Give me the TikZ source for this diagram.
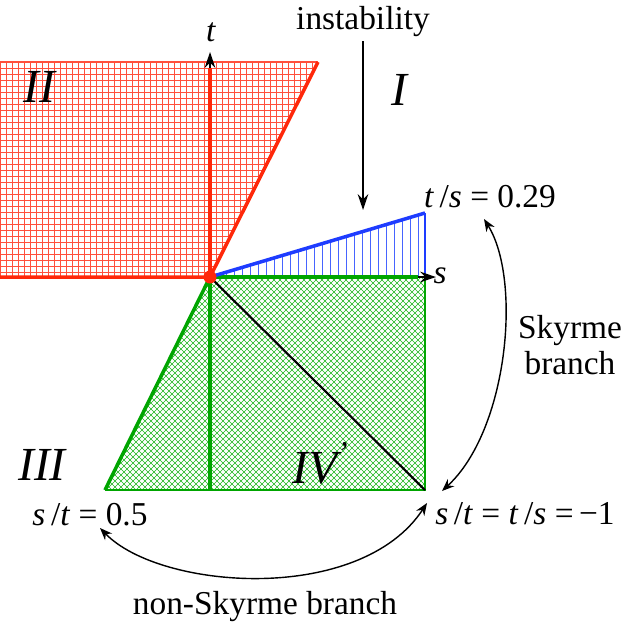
\documentclass[tikz,border=0pt]{standalone}
\usepackage{fontspec}
\setmainfont{Liberation Serif}
\usetikzlibrary{arrows.meta}

\definecolor{regred}{RGB}{255,40,10}
\definecolor{gridred}{RGB}{255,80,60}
\definecolor{regblue}{RGB}{30,60,255}
\definecolor{gridblue}{RGB}{70,100,255}
\definecolor{reggreen}{RGB}{0,165,0}
\definecolor{gridgreen}{RGB}{30,180,30}

\tikzset{
  lab/.style={font=\fontsize{19}{20.5}\selectfont, inner sep=0pt},
  region/.style={font=\fontsize{27}{30}\selectfont\itshape, inner sep=0pt},
  bound/.style={line width=2pt},
  axis/.style={line width=0.8pt, -{Stealth[length=9pt,width=6pt]}},
  branch/.style={line width=0.8pt, {Stealth[length=7pt,width=5.5pt]}-{Stealth[length=7pt,width=5.5pt]}},
}

\begin{document}
\begin{tikzpicture}[x=0.02cm, y=-0.02cm]
\useasboundingbox (0,0) rectangle (624,623);
\coordinate (O) at (210,277);
\coordinate (Rtop) at (318,62);
\coordinate (Btop) at (425,213);
\coordinate (Bfoot) at (425,277);
\coordinate (Gcorner) at (425,490);
\coordinate (Gleft) at (105,490);

% region II
\begin{scope}
\clip (0,277) -- (O) -- (Rtop) -- (0,62) -- cycle;
\foreach \x in {0.5,6.5,...,320} \draw[gridred, line width=0.4pt] (\x,60) -- (\x,280);
\foreach \y in {62.5,68.5,...,280} \draw[gridred, line width=0.4pt] (0,\y) -- (320,\y);
\end{scope}
\draw[gridred, line width=0.6pt] (0,62) -- (Rtop);

% instability wedge
\begin{scope}
\clip (O) -- (Btop) -- (Bfoot) -- cycle;
\foreach \x in {218.5,226.5,...,426} \draw[gridblue, line width=0.5pt] (\x,200) -- (\x,280);
\end{scope}
\draw[regblue, line width=0.6pt] (Btop) -- (Bfoot);

% region IV
\begin{scope}
\clip (O) -- (Bfoot) -- (Gcorner) -- (Gleft) -- cycle;
\foreach \c in {380,386,...,920} \draw[gridgreen, line width=0.35pt] (\c-200,200) -- ++(-300,300);
\foreach \c in {-390,-384,...,150} \draw[gridgreen, line width=0.35pt] (\c+200,200) -- ++(300,300);
\end{scope}
\draw[reggreen, line width=0.6pt] (Bfoot) -- (Gcorner) -- (Gleft);
\draw[reggreen, bound] (Gleft) -- (O) -- (210,490);

% axes
\draw[axis] (O) -- (436,277);
\draw[reggreen, bound] (O) -- (418,277);
\draw[axis] (O) -- (210,52);
\draw[regred, bound] (O) -- (210,68);

\draw[line width=1.2pt] (O) -- (Gcorner);
\draw[regred, bound] (0,277) -- (O) -- (Rtop);
\draw[regblue, bound] (O) -- (Btop);
\fill[regred] (O) circle (3.7pt);

\node[lab] (tlab) at (211,32) {\textit{t}};
\node[lab] (slab) at (440,276) {\textit{s}};

\node[lab] (instab) at (363,22) {instability};
\coordinate (tip) at (363,210);
\draw[axis, shorten <=2pt] (instab.south) -- (tip);

\node[region] (regII) at (39,87) {II};
\node[region] (regI) at (399,90) {I};
\node[region] (regIII) at (42,465) {III};
\node[region] (regIV) at (320,463) {IV\raisebox{0.42em}{\fontsize{18}{18}\selectfont'}};

\node[lab] (rtop) at (490,197) {\textit{t}\,/\textit{s} = 0.29};
\node[lab] (rcorner) at (525,514) {\textit{s}\,/\textit{t} = \textit{t}\,/\textit{s} =\,−1};
\node[lab] (rleft) at (90,515) {\textit{s}\,/\textit{t} = 0.5};
\node[lab, align=center] (sky) at (570,345) {Skyrme\\branch};
\node[lab] (nonsky) at (265,607) {non-Skyrme branch};

\coordinate (skyA) at (442,491);
\coordinate (skyB) at (484,219);
\draw[branch] (skyA) .. controls (508,430) and (522,280) .. (skyB);
\coordinate (nsA) at (427,503);
\coordinate (nsB) at (100,528);
\draw[branch] (nsA) .. controls (360,605) and (160,590) .. (nsB);
\end{tikzpicture}
\end{document}
